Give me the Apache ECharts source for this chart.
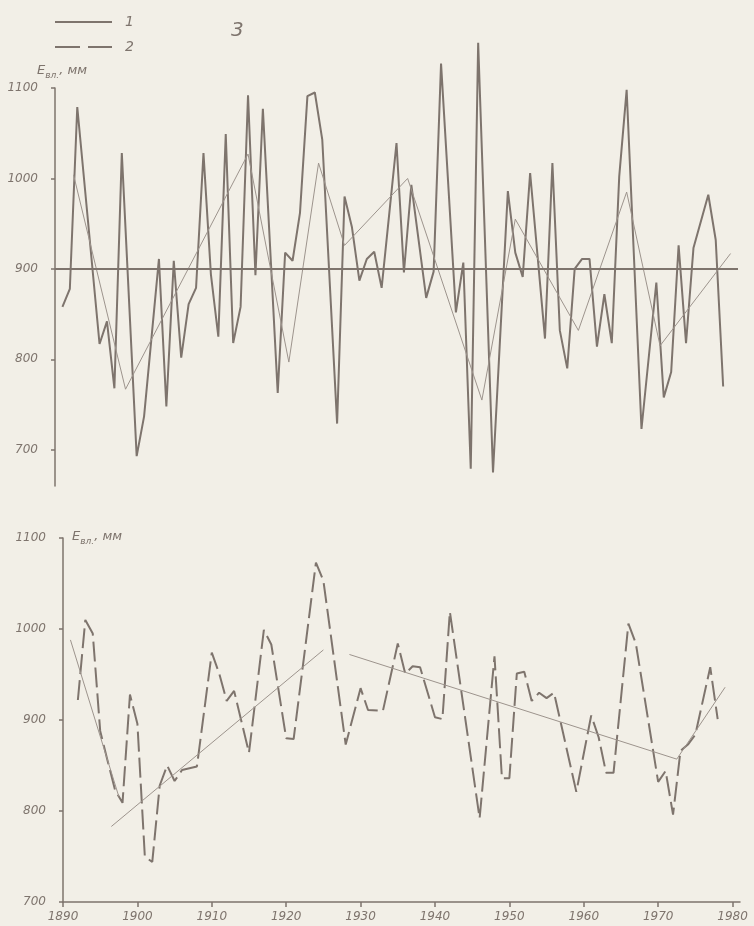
<!DOCTYPE html>
<html>
<head>
<meta charset="utf-8">
<script src="https://cdn.jsdelivr.net/npm/echarts@6/dist/echarts.min.js"></script>
<style>
  html, body { margin: 0; padding: 0; background: #f2efe7; }
  #chart { width: 754px; height: 926px; }
</style>
</head>
<body>
<div id="chart"></div>
<script>
// annual values (curve 1), top panel: [year, mm]
var annualTop = [
  [1890, 858], [1891, 878], [1892, 1079], [1895, 817], [1896, 842], [1897, 768], [1898, 1028],
  [1900, 693], [1901, 737], [1903, 911], [1904, 748], [1905, 909], [1906, 802], [1907, 861],
  [1908, 879], [1909, 1028], [1910, 894], [1911, 825], [1912, 1049], [1913, 818], [1914, 858],
  [1915, 1092], [1916, 893], [1917, 1077], [1919, 763], [1920, 918], [1921, 909], [1922, 962],
  [1923, 1091], [1924, 1095], [1925, 1043], [1927, 729], [1928, 980], [1929, 946], [1930, 887],
  [1931, 911], [1932, 919], [1933, 879], [1935, 1039], [1936, 896], [1937, 993], [1939, 868],
  [1940, 897], [1941, 1127], [1943, 852], [1944, 907], [1945, 679], [1946, 1150], [1948, 675],
  [1950, 986], [1951, 918], [1952, 891], [1953, 1006], [1955, 823], [1956, 1017], [1957, 832],
  [1958, 790], [1959, 900], [1960, 911], [1961, 911], [1962, 814], [1963, 872], [1964, 818],
  [1965, 1002], [1966, 1098], [1968, 723], [1970, 885], [1971, 758], [1972, 786], [1973, 926],
  [1974, 818], [1975, 923], [1977, 982], [1978, 932], [1979, 770]
];
// thin broken line in the top panel
var trendTop = [
  [1891.5, 1004], [1898.5, 767], [1915, 1027], [1920.5, 797], [1924.5, 1017], [1928, 926],
  [1936.5, 1000], [1946.5, 755], [1951, 955], [1959.5, 832], [1966, 985], [1970.5, 815], [1980, 917]
];
var meanLevel = 900;

// smoothed values (curve 2), bottom panel
var smoothBottom = [
  [1892, 922], [1893, 1010], [1894, 995], [1895, 888], [1896, 855], [1897, 823], [1898, 809],
  [1899, 928], [1900, 896], [1901, 750], [1902, 744], [1903, 828], [1904, 850], [1905, 833],
  [1906, 845], [1908, 849], [1910, 974], [1911, 951], [1912, 921], [1913, 932], [1915, 864],
  [1917, 999], [1918, 983], [1920, 880], [1921, 879], [1924, 1073], [1925, 1053], [1928, 873],
  [1930, 935], [1931, 911], [1933, 910], [1935, 984], [1936, 951], [1937, 959], [1938, 958],
  [1940, 903], [1941, 901], [1942, 1019], [1946, 792], [1948, 970], [1949, 836], [1950, 836],
  [1951, 951], [1952, 953], [1953, 921], [1954, 930], [1955, 924], [1956, 930], [1959, 821],
  [1961, 905], [1962, 881], [1963, 842], [1964, 842], [1966, 1006], [1967, 984], [1970, 832],
  [1971, 844], [1972, 796], [1973, 866], [1974, 873], [1975, 884], [1977, 958], [1978, 901]
];
var trendBottomA = [[1891, 988], [1897.5, 816]];
var trendBottomB = [[1896.5, 783], [1925, 977]];
var trendBottomC = [[1928.5, 972], [1972.5, 857], [1979, 936]];

var yearTicks = [1890, 1900, 1910, 1920, 1930, 1940, 1950, 1960, 1970, 1980];
var mmTicks = [700, 800, 900, 1000, 1100];

var ink = '#7e746d';
var thin = '#9d948d';
var font = 'DejaVu Sans';

var plain = function (v) { return String(v); };
var labelStyle = { color: ink, fontStyle: 'italic', fontFamily: font, fontSize: 12, formatter: plain };
var nameRich = {
  e: { fontSize: 13, fontStyle: 'italic', fontFamily: font, color: ink, lineHeight: 18 },
  s: { fontSize: 9, fontStyle: 'italic', fontFamily: font, color: ink, lineHeight: 18, verticalAlign: 'bottom' }
};

var chart = echarts.init(document.getElementById('chart'), null, { renderer: 'canvas' });
chart.setOption({
  animation: false,
  backgroundColor: '#f2efe7',
  title: {
    text: '3', left: 226, top: 16,
    textStyle: { color: ink, fontSize: 20, fontStyle: 'italic', fontWeight: 'normal', fontFamily: font }
  },
  legend: {
    orient: 'vertical', left: 50, top: 10, itemWidth: 57, itemHeight: 2, itemGap: 11,
    textStyle: { color: ink, fontSize: 14, fontStyle: 'italic', fontFamily: font, padding: [0, 0, 8, 8] },
    data: [
      { name: '1', icon: 'path://M0,0h57v2h-57z' },
      { name: '2', icon: 'path://M0,0h25v2h-25zM33,0h24v2h-24z' }
    ]
  },
  grid: [
    { left: 55, top: 88, width: 683, height: 398 },
    { left: 63, top: 538, width: 677, height: 364 }
  ],
  xAxis: [
    { gridIndex: 0, type: 'value', min: 1889, max: 1981, show: false, splitLine: { show: false } },
    {
      gridIndex: 1, type: 'value', min: 1890, max: 1981,
      axisLine: { lineStyle: { color: ink, width: 1.5 } },
      axisTick: { length: 5, lineStyle: { color: ink, width: 1.5 }, customValues: yearTicks },
      axisLabel: Object.assign({ margin: 9, customValues: yearTicks }, labelStyle),
      splitLine: { show: false }
    }
  ],
  yAxis: [
    {
      gridIndex: 0, type: 'value', min: 660, max: 1100,
      name: '{e|E}{s|вл.}{e|, мм}', nameLocation: 'end', nameGap: 8,
      nameTextStyle: { align: 'center', padding: [0, 0, 0, 14], rich: nameRich },
      axisLine: { show: true, lineStyle: { color: ink, width: 1.5 } },
      axisTick: { show: true, length: 4, lineStyle: { color: ink, width: 1.5 }, customValues: mmTicks },
      axisLabel: Object.assign({ margin: 17, customValues: mmTicks }, labelStyle),
      splitLine: { show: false }
    },
    {
      gridIndex: 1, type: 'value', min: 700, max: 1100,
      name: '{e|E}{s|вл.}{e|, мм}', nameLocation: 'end', nameGap: -8,
      nameTextStyle: { align: 'left', padding: [0, 0, 0, 9], rich: nameRich },
      axisLine: { show: true, lineStyle: { color: ink, width: 1.5 } },
      axisTick: { show: true, length: 4, lineStyle: { color: ink, width: 1.5 }, customValues: mmTicks },
      axisLabel: Object.assign({ margin: 17, customValues: mmTicks }, labelStyle),
      splitLine: { show: false }
    }
  ],
  series: [
    {
      name: '1', type: 'line', xAxisIndex: 0, yAxisIndex: 0, data: annualTop, clip: false,
      symbol: 'none', lineStyle: { color: ink, width: 2 }, itemStyle: { color: ink },
      markLine: {
        silent: true, symbol: 'none', label: { show: false },
        lineStyle: { color: ink, width: 2, type: 'solid' },
        data: [{ yAxis: meanLevel }]
      }
    },
    {
      name: 'trendTop', type: 'line', xAxisIndex: 0, yAxisIndex: 0, data: trendTop,
      symbol: 'none', lineStyle: { color: thin, width: 1 }
    },
    {
      name: '2', type: 'line', xAxisIndex: 1, yAxisIndex: 1, data: smoothBottom,
      symbol: 'none', lineStyle: { color: ink, width: 2, type: [20, 6] }, itemStyle: { color: ink }
    },
    {
      name: 'trendA', type: 'line', xAxisIndex: 1, yAxisIndex: 1, data: trendBottomA,
      symbol: 'none', lineStyle: { color: thin, width: 1 }
    },
    {
      name: 'trendB', type: 'line', xAxisIndex: 1, yAxisIndex: 1, data: trendBottomB,
      symbol: 'none', lineStyle: { color: thin, width: 1 }
    },
    {
      name: 'trendC', type: 'line', xAxisIndex: 1, yAxisIndex: 1, data: trendBottomC,
      symbol: 'none', lineStyle: { color: thin, width: 1 }
    }
  ]
});
window.addEventListener('resize', function () { chart.resize(); });
</script>
</body>
</html>
